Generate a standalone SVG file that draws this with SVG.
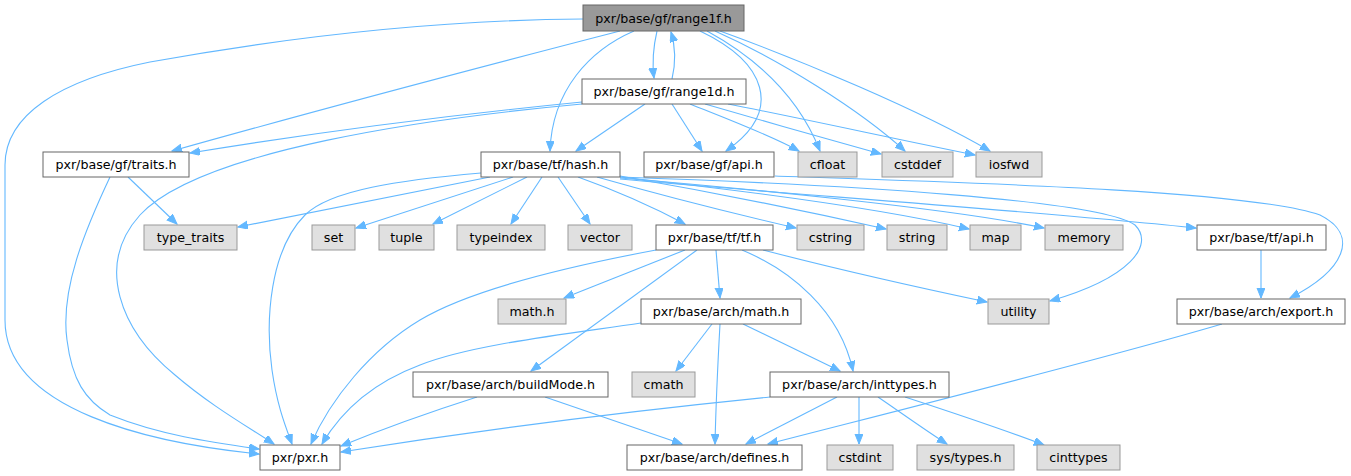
<svg xmlns="http://www.w3.org/2000/svg" width="1351" height="476" viewBox="0 0 1351 476">
<defs>
<style>
.n rect{fill:#ffffff;stroke:#666666;stroke-width:1}
.x rect{fill:#e0e0e0;stroke:#999999;stroke-width:1}
.r rect{fill:#999999;stroke:#666666;stroke-width:1}
text{font-family:"DejaVu Sans","Liberation Sans",sans-serif;font-size:12.67px;fill:#000000;text-anchor:middle}
#edges path{fill:none;stroke:#63b8ff;stroke-width:1.1;marker-end:url(#a)}
</style>
<marker id="a" markerWidth="12" markerHeight="10" refX="10" refY="4" orient="auto" markerUnits="userSpaceOnUse"><path d="M0,0 L10,4 L0,8 z" fill="#63b8ff" stroke="#63b8ff" stroke-width="1"/></marker>
</defs>
<rect width="1351" height="476" fill="#ffffff"/>
<g id="edges">
<path d="M583,19 C450,20 300,35 150,62 C60,80 5,115 5,165 L5,320 C5,410 150,443 259,454"/>
<path d="M620,31 C500,62 300,115 172,151"/>
<path d="M634,31 C590,50 552,90 550,151"/>
<path d="M657,31 C653,48 652,62 654,78"/>
<path d="M672,79 C676,62 675,45 671,32"/>
<path d="M700,31 C765,62 785,110 726,151"/>
<path d="M707,31 C760,60 800,100 820,151"/>
<path d="M715,31 C780,60 860,110 905,151"/>
<path d="M720,31 C800,60 920,110 990,151"/>
<path d="M582,102 C450,115 300,135 190,153"/>
<path d="M582,104 C430,118 200,150 140,215 C95,265 120,330 175,375 C210,405 245,425 274,444"/>
<path d="M645,104 L576,151"/>
<path d="M672,104 L702,151"/>
<path d="M690,104 C730,120 770,135 799,151"/>
<path d="M705,104 C760,120 830,140 881,154"/>
<path d="M728,104 C800,118 900,140 975,155"/>
<path d="M128,177 L177,224"/>
<path d="M110,177 C85,230 60,290 67,340 C72,380 85,400 110,415 C160,435 210,442 259,449"/>
<path d="M490,177 C400,195 310,213 238,227"/>
<path d="M481,173 C400,180 330,190 305,215 C270,250 265,320 272,370 C277,405 285,425 292,444"/>
<path d="M513,177 L356,228"/>
<path d="M527,177 L433,224"/>
<path d="M542,177 L511,224"/>
<path d="M558,177 L590,224"/>
<path d="M578,177 C620,192 655,208 685,224"/>
<path d="M597,177 C660,195 740,215 796,228"/>
<path d="M620,176 C700,190 810,212 886,229"/>
<path d="M620,177 C720,188 880,208 969,229"/>
<path d="M620,178 C740,188 950,208 1044,228"/>
<path d="M620,179 C760,192 1050,212 1196,228"/>
<path d="M620,177 C850,185 1100,200 1135,225 C1155,245 1130,278 1050,301"/>
<path d="M775,176 C950,182 1250,190 1320,215 C1360,235 1345,270 1290,298"/>
<path d="M656,250 C560,268 470,290 420,320 C370,350 330,400 311,444"/>
<path d="M685,250 L564,298"/>
<path d="M697,250 L531,371"/>
<path d="M716,250 L720,298"/>
<path d="M742,250 C790,270 840,310 853,371"/>
<path d="M763,250 C840,270 930,290 987,302"/>
<path d="M641,323 C560,335 470,345 420,365 C380,380 345,405 322,444"/>
<path d="M712,324 L676,371"/>
<path d="M720,324 C718,360 716,400 715,444"/>
<path d="M743,324 L840,371"/>
<path d="M477,397 C430,412 380,430 341,446"/>
<path d="M545,397 L682,444"/>
<path d="M770,397 C640,410 480,430 341,452"/>
<path d="M837,397 L746,444"/>
<path d="M859,397 L859,444"/>
<path d="M878,397 C900,412 925,430 947,444"/>
<path d="M905,397 C960,415 1010,432 1044,445"/>
<path d="M1222,324 C1100,360 900,410 768,444"/>
<path d="M1261,250 L1261,298"/>
</g>
<g id="range1f" class="r"><rect x="583" y="5" width="161" height="26"/><text x="663.5" y="22.5">pxr/base/gf/range1f.h</text></g>
<g id="range1d" class="n"><rect x="582" y="79" width="164" height="25"/><text x="664" y="95.5">pxr/base/gf/range1d.h</text></g>
<g id="traits" class="n"><rect x="43" y="152" width="146" height="25"/><text x="116" y="168.5">pxr/base/gf/traits.h</text></g>
<g id="hash" class="n"><rect x="481" y="152" width="139" height="25"/><text x="550.5" y="168.5">pxr/base/tf/hash.h</text></g>
<g id="gfapi" class="n"><rect x="644" y="152" width="130" height="25"/><text x="709" y="168.5">pxr/base/gf/api.h</text></g>
<g id="cfloat" class="x"><rect x="798" y="152" width="59" height="25"/><text x="827.5" y="168.5">cfloat</text></g>
<g id="cstddef" class="x"><rect x="882" y="152" width="71" height="25"/><text x="917.5" y="168.5">cstddef</text></g>
<g id="iosfwd" class="x"><rect x="976" y="152" width="66" height="25"/><text x="1009" y="168.5">iosfwd</text></g>
<g id="type_traits" class="x"><rect x="144" y="225" width="93" height="25"/><text x="190.5" y="241.5">type_traits</text></g>
<g id="set" class="x"><rect x="312" y="225" width="43" height="25"/><text x="333.5" y="241.5">set</text></g>
<g id="tuple" class="x"><rect x="379" y="225" width="55" height="25"/><text x="406.5" y="241.5">tuple</text></g>
<g id="typeindex" class="x"><rect x="457" y="225" width="88" height="25"/><text x="501" y="241.5">typeindex</text></g>
<g id="vector" class="x"><rect x="568" y="225" width="64" height="25"/><text x="600" y="241.5">vector</text></g>
<g id="tftf" class="n"><rect x="656" y="225" width="117" height="25"/><text x="714.5" y="241.5">pxr/base/tf/tf.h</text></g>
<g id="cstring" class="x"><rect x="797" y="225" width="67" height="25"/><text x="830.5" y="241.5">cstring</text></g>
<g id="string" class="x"><rect x="887" y="225" width="60" height="25"/><text x="917" y="241.5">string</text></g>
<g id="map" class="x"><rect x="970" y="225" width="51" height="25"/><text x="995.5" y="241.5">map</text></g>
<g id="memory" class="x"><rect x="1045" y="225" width="78" height="25"/><text x="1084" y="241.5">memory</text></g>
<g id="tfapi" class="n"><rect x="1197" y="225" width="129" height="25"/><text x="1261.5" y="241.5">pxr/base/tf/api.h</text></g>
<g id="mathh" class="x"><rect x="498" y="299" width="68" height="25"/><text x="532" y="315.5">math.h</text></g>
<g id="archmath" class="n"><rect x="641" y="299" width="160" height="25"/><text x="721" y="315.5">pxr/base/arch/math.h</text></g>
<g id="utility" class="x"><rect x="988" y="299" width="61" height="25"/><text x="1018.5" y="315.5">utility</text></g>
<g id="export" class="n"><rect x="1177" y="299" width="168" height="25"/><text x="1261" y="315.5">pxr/base/arch/export.h</text></g>
<g id="buildMode" class="n"><rect x="413" y="372" width="195" height="25"/><text x="510.5" y="388.5">pxr/base/arch/buildMode.h</text></g>
<g id="cmath" class="x"><rect x="632" y="372" width="63" height="25"/><text x="663.5" y="388.5">cmath</text></g>
<g id="inttypes" class="n"><rect x="770" y="372" width="179" height="25"/><text x="859.5" y="388.5">pxr/base/arch/inttypes.h</text></g>
<g id="pxr" class="n"><rect x="260" y="445" width="80" height="25"/><text x="300" y="461.5">pxr/pxr.h</text></g>
<g id="defines" class="n"><rect x="627" y="445" width="175" height="25"/><text x="714.5" y="461.5">pxr/base/arch/defines.h</text></g>
<g id="cstdint" class="x"><rect x="827" y="445" width="66" height="25"/><text x="860" y="461.5">cstdint</text></g>
<g id="systypes" class="x"><rect x="917" y="445" width="97" height="25"/><text x="965.5" y="461.5">sys/types.h</text></g>
<g id="cinttypes" class="x"><rect x="1037" y="445" width="83" height="25"/><text x="1078.5" y="461.5">cinttypes</text></g>
</svg>
